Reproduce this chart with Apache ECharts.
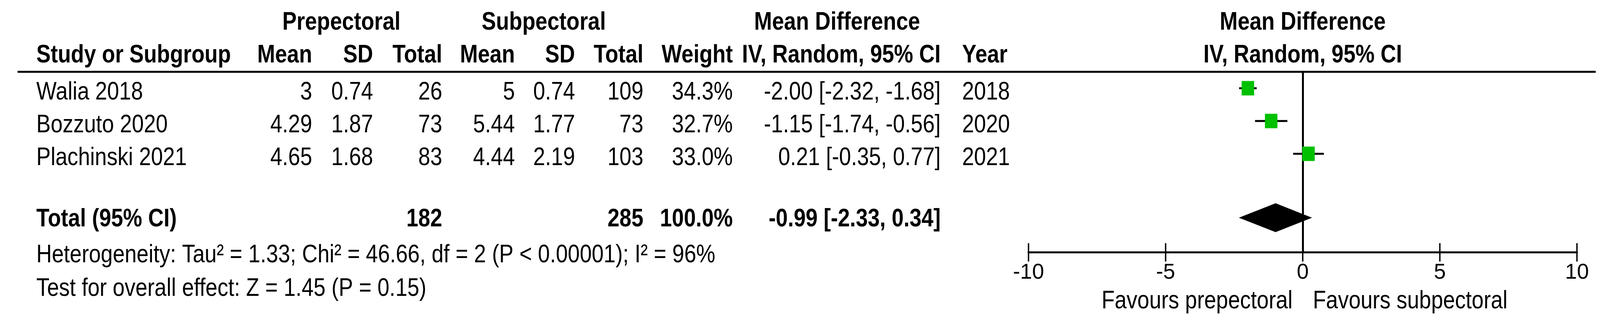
<!DOCTYPE html>
<html><head><meta charset="utf-8">
<script src="https://cdn.jsdelivr.net/npm/echarts@6/dist/echarts.min.js"></script>
<style>html,body{margin:0;padding:0;background:#fff}#c{width:4124px;height:848px}</style>
</head><body><div id="c"></div>
<script>
// ---------------- data ----------------
const studies   = ['Walia 2018', 'Bozzuto 2020', 'Plachinski 2021'];
const preMean   = [3, 4.29, 4.65];
const preSD     = [0.74, 1.87, 1.68];
const preTotal  = [26, 73, 83];
const subMean   = [5, 5.44, 4.44];
const subSD     = [0.74, 1.77, 2.19];
const subTotal  = [109, 73, 103];
const weights   = [34.3, 32.7, 33.0];
const meanDiff  = [-2.00, -1.15, 0.21];
const ciLow     = [-2.32, -1.74, -0.35];
const ciHigh    = [-1.68, -0.56, 0.77];
const years     = [2018, 2020, 2021];
const totalN    = [182, 285];          // prepectoral, subpectoral
const totalWeight = 100.0;
const pooledEffect = [-0.99, -2.33, 0.34]; // estimate, low, high
const xTicks    = [-10, -5, 0, 5, 10];
const groupHeaders = ['Prepectoral', 'Subpectoral', 'Mean Difference'];
const columnHeaders = ['Study or Subgroup', 'Mean', 'SD', 'Total', 'Mean', 'SD', 'Total', 'Weight', 'IV, Random, 95% CI', 'Year'];
const totalLabel = 'Total (95% CI)';
const heterogeneityText = 'Heterogeneity: Tau\u00B2 = 1.33; Chi\u00B2 = 46.66, df = 2 (P < 0.00001); I\u00B2 = 96%';
const overallEffectText = 'Test for overall effect: Z = 1.45 (P = 0.15)';
const plotHeaders = ['Mean Difference', 'IV, Random, 95% CI'];
const favourLabels = ['Favours prepectoral', 'Favours subpectoral'];

// ---------------- layout / style ----------------
const FONT = "'Liberation Sans', Arial, sans-serif";
const FS = 55, SY = 1.19;
const COL = {study: 93, preMean: 799, preSD: 955, preN: 1132, subMean: 1318, subSD: 1472, subN: 1647,
             weight: 1876, ci: 2408, year: 2463, preHead: 874, subHead: 1392, mdHead: 2143};
const ROW = {head1: -2, head2: -1, shift: 0.125, total: 4.0, het: 5.1, test: 6.12, favour: 6.5, diamond: 3.95, rule: -0.5};
const f2 = v => v.toFixed(2);
const ciText = (m, l, h) => f2(m) + ' [' + f2(l) + ', ' + f2(h) + ']';

const cells = [];
function cell(x, row, text, align, bold, val, dx) { cells.push({x, row, text, align, bold, val, dx}); }
// group headers
cell(COL.preHead, ROW.head1, groupHeaders[0], 'center', true);
cell(COL.subHead, ROW.head1, groupHeaders[1], 'center', true);
cell(COL.mdHead,  ROW.head1, groupHeaders[2], 'center', true);
cell(0, ROW.head1, plotHeaders[0], 'center', true, 0, 0);
// column headers
const headX = [COL.study, COL.preMean, COL.preSD, COL.preN, COL.subMean, COL.subSD, COL.subN, COL.weight, COL.ci, COL.year];
const headAlign = ['left', 'right', 'right', 'right', 'right', 'right', 'right', 'right', 'right', 'left'];
columnHeaders.forEach((t, i) => cell(headX[i], ROW.head2, t, headAlign[i], true));
cell(0, ROW.head2, plotHeaders[1], 'center', true, 0, 0);
// study rows
studies.forEach((s, i) => {
  const r = i + ROW.shift;
  cell(COL.study, r, s, 'left', false);
  cell(COL.preMean, r, String(preMean[i]), 'right', false);
  cell(COL.preSD, r, String(preSD[i]), 'right', false);
  cell(COL.preN, r, String(preTotal[i]), 'right', false);
  cell(COL.subMean, r, String(subMean[i]), 'right', false);
  cell(COL.subSD, r, String(subSD[i]), 'right', false);
  cell(COL.subN, r, String(subTotal[i]), 'right', false);
  cell(COL.weight, r, weights[i].toFixed(1) + '%', 'right', false);
  cell(COL.ci, r, ciText(meanDiff[i], ciLow[i], ciHigh[i]), 'right', false);
  cell(COL.year, r, String(years[i]), 'left', false);
});
// total row
cell(COL.study, ROW.total, totalLabel, 'left', true);
cell(COL.preN, ROW.total, String(totalN[0]), 'right', true);
cell(COL.subN, ROW.total, String(totalN[1]), 'right', true);
cell(COL.weight, ROW.total, totalWeight.toFixed(1) + '%', 'right', true);
cell(COL.ci, ROW.total, ciText(pooledEffect[0], pooledEffect[1], pooledEffect[2]), 'right', true);
cell(COL.study, ROW.het, heterogeneityText, 'left', false);
cell(COL.study, ROW.test, overallEffectText, 'left', false);
cell(0, ROW.favour, favourLabels[0], 'right', false, 0, -26);
cell(0, ROW.favour, favourLabels[1], 'left', false, 0, 26);

const chart = echarts.init(document.getElementById('c'), null, {renderer: 'canvas', width: 4124, height: 848});
chart.setOption({
  backgroundColor: '#ffffff',
  animation: false,
  grid: {left: 2633, right: 87, top: 184, bottom: 202, containLabel: false},
  xAxis: [
    {type: 'value', min: -10, max: 10, interval: 5, position: 'bottom',
     axisLine: {show: true, onZero: false, lineStyle: {color: '#000', width: 5}},
     axisTick: {show: true, length: 24, lineStyle: {color: '#000', width: 3.5}},
     axisLabel: {show: true, color: '#000', fontSize: FS, fontFamily: FONT, margin: 25,
                 customValues: xTicks, formatter: v => String(v)},
     splitLine: {show: false}},
    {type: 'value', min: -10, max: 10, interval: 5, position: 'bottom',
     axisLine: {show: false, onZero: false},
     axisTick: {show: true, inside: true, length: 23, lineStyle: {color: '#000', width: 3.5}},
     axisLabel: {show: false}, splitLine: {show: false}}
  ],
  yAxis: {type: 'value', min: -0.5, max: 5, inverse: true,
          axisLine: {show: true, onZero: true, lineStyle: {color: '#000', width: 5}},
          axisTick: {show: false}, axisLabel: {show: false}, splitLine: {show: false}},
  series: [
    { // header rule
      type: 'custom', silent: true, clip: false, data: [[0, ROW.rule]],
      renderItem: (params, api) => {
        const y = api.coord([0, api.value(1)])[1];
        return {type: 'line', shape: {x1: 45, y1: y, x2: 4085, y2: y}, style: {stroke: '#000', lineWidth: 5}};
      }
    },
    { // table text
      type: 'custom', silent: true, clip: false,
      data: cells.map(c => [c.val === undefined ? 0 : c.val, c.row]),
      renderItem: (params, api) => {
        const c = cells[params.dataIndex];
        const y = api.coord([0, c.row])[1];
        const x = c.val !== undefined ? api.coord([c.val, 0])[0] + (c.dx || 0) : c.x;
        return {type: 'text', x: x, y: y, scaleY: SY,
                style: {text: c.text, fontSize: FS, fontFamily: FONT, fontWeight: c.bold ? 'bold' : 'normal',
                        fill: '#000', align: c.align, verticalAlign: 'middle'}};
      }
    },
    { // confidence intervals
      type: 'custom', clip: false,
      data: studies.map((s, i) => [ciLow[i], ciHigh[i], i]),
      encode: {x: [0, 1], y: 2},
      renderItem: (params, api) => {
        const p1 = api.coord([api.value(0), api.value(2)]);
        const p2 = api.coord([api.value(1), api.value(2)]);
        return {type: 'line', shape: {x1: p1[0], y1: p1[1], x2: p2[0], y2: p2[1]}, style: {stroke: '#000', lineWidth: 5}};
      }
    },
    { // point estimates
      type: 'scatter', symbol: 'rect', symbolSize: [32, 37],
      itemStyle: {color: '#00c000', opacity: 1},
      data: meanDiff.map((m, i) => [m, i]), z: 5
    },
    { // pooled diamond
      type: 'custom', clip: false,
      data: [[pooledEffect[0], pooledEffect[1], pooledEffect[2], ROW.diamond]],
      encode: {x: [0, 1, 2], y: 3},
      renderItem: (params, api) => {
        const c = api.coord([api.value(0), api.value(3)]);
        const l = api.coord([api.value(1), api.value(3)]);
        const r = api.coord([api.value(2), api.value(3)]);
        const h = 37;
        return {type: 'polygon', shape: {points: [[l[0], c[1]], [c[0], c[1] - h], [r[0], c[1]], [c[0], c[1] + h]]},
                style: {fill: '#000'}};
      }
    }
  ]
});
</script></body></html>
